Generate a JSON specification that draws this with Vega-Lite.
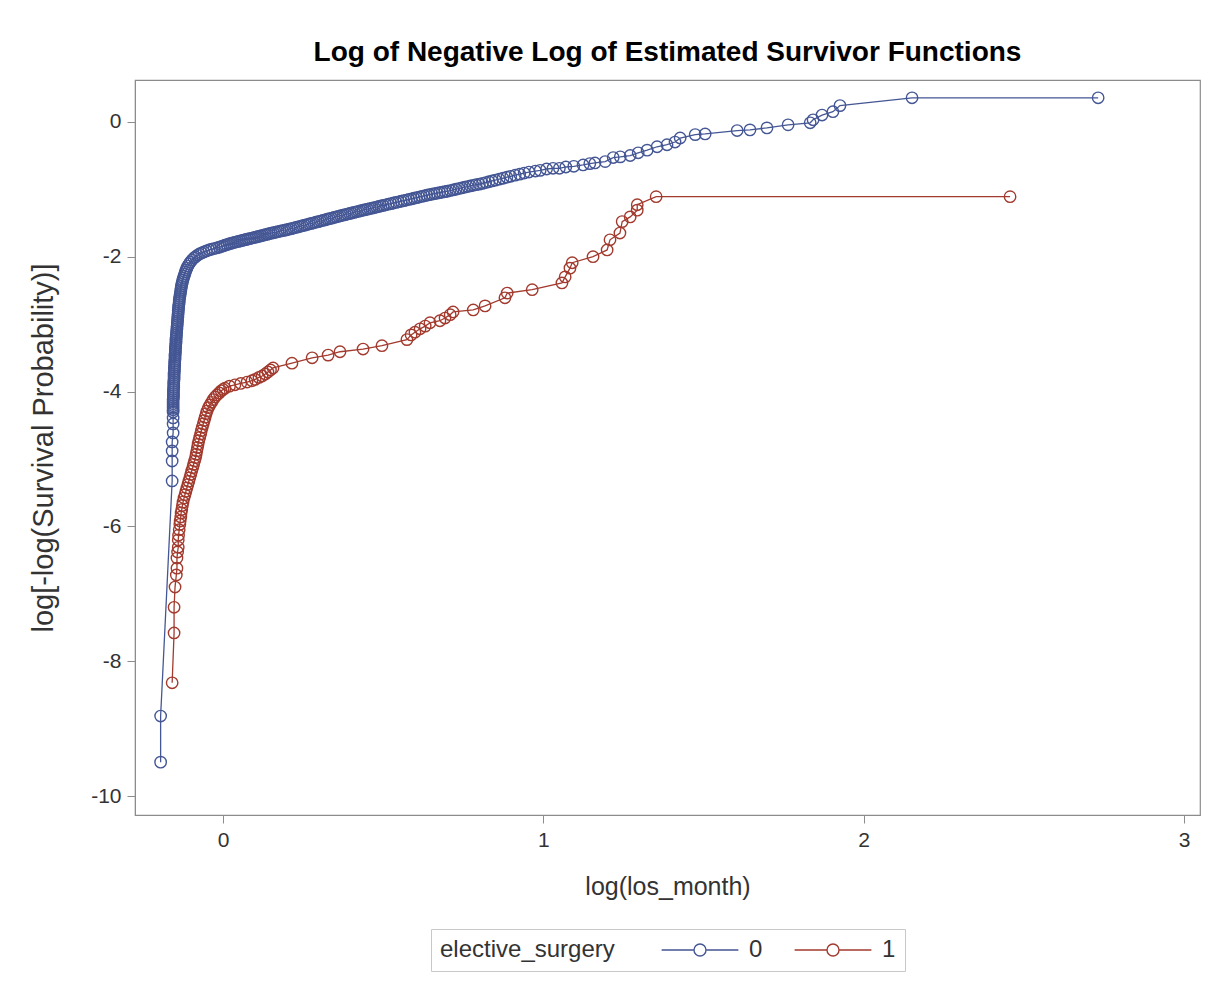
{
  "$schema": "https://vega.github.io/schema/vega-lite/v6.json",
  "autosize": "none",
  "width": 1065,
  "height": 735,
  "padding": {"left": 135, "top": 80, "right": 13, "bottom": 168},
  "background": "white",
  "title": {"text": "Log of Negative Log of Estimated Survivor Functions", "font": "Liberation Sans", "fontSize": 28, "fontWeight": "bold", "color": "#000000", "anchor": "middle", "baseline": "alphabetic", "offset": 18, "dy": 27},
  "config": {
    "view": {"stroke": "#8c8c8c", "strokeWidth": 1.2},
    "axis": {"grid": false, "domainColor": "#8c8c8c", "tickColor": "#8c8c8c", "tickSize": 8, "labelFont": "Liberation Sans", "labelFontSize": 21, "labelColor": "#333333", "titleFont": "Liberation Sans", "titleFontWeight": "normal", "titleColor": "#333333", "labelExpr": "datum.value < 0 ? '-' + abs(datum.value) : '' + datum.value"},
    "legend": {"layout": {"bottom": {"anchor": "middle"}}}
  },
  "data": {"values": [
    {"g":"0","t":-0.195,"s":-9.496},{"g":"0","t":-0.195,"s":-8.813},{"g":"0","t":-0.159,"s":-5.326},{"g":"0","t":-0.159,"s":-5.03},{"g":"0","t":-0.159,"s":-4.881},{"g":"0","t":-0.159,"s":-4.748},{"g":"0","t":-0.156,"s":-4.614},{"g":"0","t":-0.156,"s":-4.481},{"g":"0","t":-0.156,"s":-4.392},{"g":"0","t":-0.156,"s":-4.303},
    {"g":"0","t":-0.156,"s":-4.27},{"g":"0","t":-0.156,"s":-4.24},{"g":"0","t":-0.156,"s":-4.21},{"g":"0","t":-0.156,"s":-4.18},{"g":"0","t":-0.156,"s":-4.15},{"g":"0","t":-0.156,"s":-4.12},{"g":"0","t":-0.155,"s":-4.09},{"g":"0","t":-0.155,"s":-4.06},{"g":"0","t":-0.155,"s":-4.03},{"g":"0","t":-0.155,"s":-4.0},{"g":"0","t":-0.155,"s":-3.97},{"g":"0","t":-0.154,"s":-3.94},{"g":"0","t":-0.154,"s":-3.91},{"g":"0","t":-0.154,"s":-3.88},{"g":"0","t":-0.154,"s":-3.85},{"g":"0","t":-0.153,"s":-3.82},{"g":"0","t":-0.153,"s":-3.79},{"g":"0","t":-0.153,"s":-3.76},{"g":"0","t":-0.153,"s":-3.73},{"g":"0","t":-0.152,"s":-3.7},{"g":"0","t":-0.152,"s":-3.67},{"g":"0","t":-0.152,"s":-3.64},{"g":"0","t":-0.151,"s":-3.61},{"g":"0","t":-0.151,"s":-3.58},{"g":"0","t":-0.151,"s":-3.55},{"g":"0","t":-0.15,"s":-3.52},{"g":"0","t":-0.15,"s":-3.49},{"g":"0","t":-0.15,"s":-3.46},{"g":"0","t":-0.149,"s":-3.43},{"g":"0","t":-0.149,"s":-3.4},{"g":"0","t":-0.149,"s":-3.37},{"g":"0","t":-0.148,"s":-3.34},{"g":"0","t":-0.148,"s":-3.31},{"g":"0","t":-0.147,"s":-3.28},{"g":"0","t":-0.147,"s":-3.25},{"g":"0","t":-0.147,"s":-3.22},{"g":"0","t":-0.146,"s":-3.19},{"g":"0","t":-0.146,"s":-3.16},{"g":"0","t":-0.145,"s":-3.13},{"g":"0","t":-0.145,"s":-3.1},{"g":"0","t":-0.144,"s":-3.07},{"g":"0","t":-0.144,"s":-3.04},{"g":"0","t":-0.143,"s":-3.01},{"g":"0","t":-0.143,"s":-2.98},{"g":"0","t":-0.142,"s":-2.95},{"g":"0","t":-0.142,"s":-2.92},{"g":"0","t":-0.141,"s":-2.89},{"g":"0","t":-0.141,"s":-2.86},{"g":"0","t":-0.14,"s":-2.83},{"g":"0","t":-0.14,"s":-2.8},{"g":"0","t":-0.139,"s":-2.77},{"g":"0","t":-0.139,"s":-2.74},{"g":"0","t":-0.138,"s":-2.71},{"g":"0","t":-0.137,"s":-2.68},{"g":"0","t":-0.137,"s":-2.65},{"g":"0","t":-0.136,"s":-2.62},{"g":"0","t":-0.135,"s":-2.59},{"g":"0","t":-0.134,"s":-2.56},{"g":"0","t":-0.133,"s":-2.53},{"g":"0","t":-0.132,"s":-2.5},{"g":"0","t":-0.131,"s":-2.47},{"g":"0","t":-0.13,"s":-2.44},{"g":"0","t":-0.129,"s":-2.41},{"g":"0","t":-0.127,"s":-2.38},{"g":"0","t":-0.126,"s":-2.35},{"g":"0","t":-0.124,"s":-2.32},{"g":"0","t":-0.122,"s":-2.29},{"g":"0","t":-0.12,"s":-2.26},{"g":"0","t":-0.118,"s":-2.23},{"g":"0","t":-0.116,"s":-2.2},{"g":"0","t":-0.113,"s":-2.17},{"g":"0","t":-0.11,"s":-2.14},{"g":"0","t":-0.106,"s":-2.11},{"g":"0","t":-0.102,"s":-2.08},{"g":"0","t":-0.097,"s":-2.05},{"g":"0","t":-0.091,"s":-2.02},{"g":"0","t":-0.086,"s":-2.0},{"g":"0","t":-0.08,"s":-1.98},{"g":"0","t":-0.074,"s":-1.96},{"g":"0","t":-0.067,"s":-1.945},{"g":"0","t":-0.06,"s":-1.93},{"g":"0","t":-0.052,"s":-1.915},{"g":"0","t":-0.044,"s":-1.9},{"g":"0","t":-0.036,"s":-1.89},{"g":"0","t":-0.028,"s":-1.88},{"g":"0","t":-0.02,"s":-1.87},{"g":"0","t":-0.012,"s":-1.86},{"g":"0","t":-0.006,"s":-1.85},
    {"g":"0","t":0.0,"s":-1.84},{"g":"0","t":0.006,"s":-1.83},{"g":"0","t":0.012,"s":-1.82},{"g":"0","t":0.018,"s":-1.812},{"g":"0","t":0.024,"s":-1.803},{"g":"0","t":0.03,"s":-1.795},{"g":"0","t":0.036,"s":-1.787},{"g":"0","t":0.042,"s":-1.78},{"g":"0","t":0.048,"s":-1.773},{"g":"0","t":0.054,"s":-1.766},{"g":"0","t":0.06,"s":-1.759},{"g":"0","t":0.066,"s":-1.752},{"g":"0","t":0.072,"s":-1.745},{"g":"0","t":0.078,"s":-1.738},{"g":"0","t":0.084,"s":-1.731},{"g":"0","t":0.09,"s":-1.724},{"g":"0","t":0.096,"s":-1.717},{"g":"0","t":0.102,"s":-1.71},{"g":"0","t":0.108,"s":-1.703},{"g":"0","t":0.114,"s":-1.696},{"g":"0","t":0.12,"s":-1.688},{"g":"0","t":0.126,"s":-1.681},{"g":"0","t":0.132,"s":-1.674},{"g":"0","t":0.138,"s":-1.667},{"g":"0","t":0.144,"s":-1.66},{"g":"0","t":0.15,"s":-1.652},{"g":"0","t":0.157,"s":-1.645},{"g":"0","t":0.164,"s":-1.638},{"g":"0","t":0.171,"s":-1.63},{"g":"0","t":0.178,"s":-1.622},{"g":"0","t":0.185,"s":-1.615},{"g":"0","t":0.192,"s":-1.608},{"g":"0","t":0.199,"s":-1.601},{"g":"0","t":0.206,"s":-1.592},{"g":"0","t":0.213,"s":-1.584},{"g":"0","t":0.22,"s":-1.576},{"g":"0","t":0.227,"s":-1.567},{"g":"0","t":0.234,"s":-1.558},{"g":"0","t":0.241,"s":-1.55},{"g":"0","t":0.248,"s":-1.541},{"g":"0","t":0.255,"s":-1.532},{"g":"0","t":0.262,"s":-1.524},{"g":"0","t":0.269,"s":-1.515},{"g":"0","t":0.276,"s":-1.506},{"g":"0","t":0.283,"s":-1.498},{"g":"0","t":0.29,"s":-1.489},{"g":"0","t":0.297,"s":-1.48},{"g":"0","t":0.304,"s":-1.472},{"g":"0","t":0.311,"s":-1.463},{"g":"0","t":0.318,"s":-1.454},{"g":"0","t":0.325,"s":-1.445},{"g":"0","t":0.332,"s":-1.436},{"g":"0","t":0.339,"s":-1.428},{"g":"0","t":0.346,"s":-1.419},{"g":"0","t":0.353,"s":-1.41},{"g":"0","t":0.36,"s":-1.402},{"g":"0","t":0.367,"s":-1.393},{"g":"0","t":0.374,"s":-1.385},{"g":"0","t":0.381,"s":-1.377},{"g":"0","t":0.388,"s":-1.368},{"g":"0","t":0.395,"s":-1.36},{"g":"0","t":0.402,"s":-1.352},{"g":"0","t":0.409,"s":-1.343},{"g":"0","t":0.416,"s":-1.335},{"g":"0","t":0.423,"s":-1.327},{"g":"0","t":0.43,"s":-1.319},{"g":"0","t":0.437,"s":-1.311},{"g":"0","t":0.444,"s":-1.303},{"g":"0","t":0.451,"s":-1.295},{"g":"0","t":0.458,"s":-1.287},{"g":"0","t":0.465,"s":-1.28},{"g":"0","t":0.472,"s":-1.272},{"g":"0","t":0.479,"s":-1.264},{"g":"0","t":0.486,"s":-1.256},{"g":"0","t":0.493,"s":-1.248},{"g":"0","t":0.5,"s":-1.24},{"g":"0","t":0.508,"s":-1.231},{"g":"0","t":0.516,"s":-1.222},{"g":"0","t":0.524,"s":-1.213},{"g":"0","t":0.532,"s":-1.204},{"g":"0","t":0.54,"s":-1.196},{"g":"0","t":0.548,"s":-1.187},{"g":"0","t":0.556,"s":-1.178},{"g":"0","t":0.564,"s":-1.169},{"g":"0","t":0.572,"s":-1.16},{"g":"0","t":0.58,"s":-1.151},{"g":"0","t":0.588,"s":-1.143},{"g":"0","t":0.596,"s":-1.134},{"g":"0","t":0.604,"s":-1.125},{"g":"0","t":0.612,"s":-1.116},{"g":"0","t":0.62,"s":-1.107},{"g":"0","t":0.628,"s":-1.098},{"g":"0","t":0.636,"s":-1.089},{"g":"0","t":0.644,"s":-1.081},{"g":"0","t":0.652,"s":-1.073},{"g":"0","t":0.66,"s":-1.065},{"g":"0","t":0.668,"s":-1.058},{"g":"0","t":0.676,"s":-1.05},{"g":"0","t":0.684,"s":-1.043},{"g":"0","t":0.692,"s":-1.036},{"g":"0","t":0.7,"s":-1.03},{"g":"0","t":0.709,"s":-1.02},{"g":"0","t":0.718,"s":-1.01},{"g":"0","t":0.727,"s":-1.0},{"g":"0","t":0.736,"s":-0.99},{"g":"0","t":0.745,"s":-0.98},{"g":"0","t":0.754,"s":-0.97},{"g":"0","t":0.763,"s":-0.96},{"g":"0","t":0.772,"s":-0.951},{"g":"0","t":0.781,"s":-0.942},{"g":"0","t":0.79,"s":-0.933},{"g":"0","t":0.8,"s":-0.925},{"g":"0","t":0.81,"s":-0.913},{"g":"0","t":0.82,"s":-0.901},{"g":"0","t":0.83,"s":-0.889},{"g":"0","t":0.84,"s":-0.877},{"g":"0","t":0.85,"s":-0.865},{"g":"0","t":0.862,"s":-0.851},{"g":"0","t":0.874,"s":-0.837},{"g":"0","t":0.886,"s":-0.822},{"g":"0","t":0.898,"s":-0.808},{"g":"0","t":0.912,"s":-0.792},{"g":"0","t":0.926,"s":-0.776},{"g":"0","t":0.94,"s":-0.76},{"g":"0","t":0.955,"s":-0.745},
    {"g":"0","t":0.975,"s":-0.73},{"g":"0","t":0.99,"s":-0.72},{"g":"0","t":1.01,"s":-0.7},{"g":"0","t":1.03,"s":-0.69},{"g":"0","t":1.05,"s":-0.69},{"g":"0","t":1.07,"s":-0.67},{"g":"0","t":1.095,"s":-0.66},{"g":"0","t":1.124,"s":-0.64},{"g":"0","t":1.145,"s":-0.62},{"g":"0","t":1.161,"s":-0.61},{"g":"0","t":1.193,"s":-0.59},{"g":"0","t":1.218,"s":-0.53},{"g":"0","t":1.24,"s":-0.52},{"g":"0","t":1.271,"s":-0.5},{"g":"0","t":1.296,"s":-0.46},{"g":"0","t":1.324,"s":-0.42},{"g":"0","t":1.355,"s":-0.37},{"g":"0","t":1.386,"s":-0.34},{"g":"0","t":1.411,"s":-0.3},{"g":"0","t":1.427,"s":-0.24},{"g":"0","t":1.474,"s":-0.19},{"g":"0","t":1.505,"s":-0.18},{"g":"0","t":1.605,"s":-0.13},{"g":"0","t":1.645,"s":-0.12},{"g":"0","t":1.698,"s":-0.09},{"g":"0","t":1.764,"s":-0.045},{"g":"0","t":1.833,"s":-0.015},{"g":"0","t":1.842,"s":0.03},{"g":"0","t":1.87,"s":0.1},{"g":"0","t":1.904,"s":0.15},{"g":"0","t":1.926,"s":0.24},{"g":"0","t":2.151,"s":0.356},{"g":"0","t":2.732,"s":0.356},
    {"g":"1","t":-0.159,"s":-8.32},{"g":"1","t":-0.153,"s":-7.58},{"g":"1","t":-0.153,"s":-7.2},{"g":"1","t":-0.15,"s":-6.9},{"g":"1","t":-0.146,"s":-6.72},{"g":"1","t":-0.144,"s":-6.62},{"g":"1","t":-0.144,"s":-6.47},{"g":"1","t":-0.142,"s":-6.38},{"g":"1","t":-0.14,"s":-6.31},{"g":"1","t":-0.14,"s":-6.2},{"g":"1","t":-0.139,"s":-6.13},{"g":"1","t":-0.137,"s":-6.05},{"g":"1","t":-0.135,"s":-5.97},{"g":"1","t":-0.134,"s":-5.92},{"g":"1","t":-0.132,"s":-5.86},{"g":"1","t":-0.131,"s":-5.8},{"g":"1","t":-0.129,"s":-5.75},{"g":"1","t":-0.127,"s":-5.69},{"g":"1","t":-0.125,"s":-5.64},{"g":"1","t":-0.122,"s":-5.58},{"g":"1","t":-0.119,"s":-5.53},{"g":"1","t":-0.116,"s":-5.48},{"g":"1","t":-0.113,"s":-5.43},{"g":"1","t":-0.11,"s":-5.38},{"g":"1","t":-0.107,"s":-5.33},{"g":"1","t":-0.104,"s":-5.28},{"g":"1","t":-0.101,"s":-5.23},{"g":"1","t":-0.098,"s":-5.18},{"g":"1","t":-0.095,"s":-5.13},{"g":"1","t":-0.092,"s":-5.08},{"g":"1","t":-0.089,"s":-5.03},{"g":"1","t":-0.086,"s":-4.98},{"g":"1","t":-0.084,"s":-4.93},{"g":"1","t":-0.082,"s":-4.88},{"g":"1","t":-0.08,"s":-4.83},{"g":"1","t":-0.078,"s":-4.78},{"g":"1","t":-0.076,"s":-4.73},{"g":"1","t":-0.073,"s":-4.68},{"g":"1","t":-0.07,"s":-4.63},{"g":"1","t":-0.068,"s":-4.58},{"g":"1","t":-0.065,"s":-4.53},{"g":"1","t":-0.062,"s":-4.48},{"g":"1","t":-0.059,"s":-4.43},{"g":"1","t":-0.056,"s":-4.38},{"g":"1","t":-0.053,"s":-4.33},{"g":"1","t":-0.05,"s":-4.29},{"g":"1","t":-0.046,"s":-4.24},{"g":"1","t":-0.041,"s":-4.2},{"g":"1","t":-0.036,"s":-4.16},{"g":"1","t":-0.031,"s":-4.12},{"g":"1","t":-0.025,"s":-4.08},{"g":"1","t":-0.019,"s":-4.05},{"g":"1","t":-0.012,"s":-4.02},{"g":"1","t":-0.006,"s":-3.99},{"g":"1","t":0.0,"s":-3.97},{"g":"1","t":0.006,"s":-3.95},{"g":"1","t":0.02,"s":-3.92},{"g":"1","t":0.037,"s":-3.9},{"g":"1","t":0.055,"s":-3.88},{"g":"1","t":0.075,"s":-3.86},{"g":"1","t":0.09,"s":-3.84},{"g":"1","t":0.1,"s":-3.82},{"g":"1","t":0.112,"s":-3.79},{"g":"1","t":0.122,"s":-3.77},{"g":"1","t":0.132,"s":-3.74},{"g":"1","t":0.14,"s":-3.71},{"g":"1","t":0.148,"s":-3.68},{"g":"1","t":0.156,"s":-3.65},{"g":"1","t":0.215,"s":-3.58},{"g":"1","t":0.278,"s":-3.5},{"g":"1","t":0.328,"s":-3.46},{"g":"1","t":0.365,"s":-3.41},{"g":"1","t":0.437,"s":-3.37},{"g":"1","t":0.496,"s":-3.32},{"g":"1","t":0.574,"s":-3.23},{"g":"1","t":0.587,"s":-3.16},{"g":"1","t":0.599,"s":-3.12},{"g":"1","t":0.615,"s":-3.07},{"g":"1","t":0.631,"s":-3.03},{"g":"1","t":0.646,"s":-2.98},{"g":"1","t":0.677,"s":-2.95},{"g":"1","t":0.693,"s":-2.91},{"g":"1","t":0.709,"s":-2.86},{"g":"1","t":0.718,"s":-2.82},{"g":"1","t":0.781,"s":-2.79},{"g":"1","t":0.818,"s":-2.73},{"g":"1","t":0.88,"s":-2.61},{"g":"1","t":0.887,"s":-2.54},{"g":"1","t":0.965,"s":-2.49},{"g":"1","t":1.058,"s":-2.39},{"g":"1","t":1.068,"s":-2.3},{"g":"1","t":1.083,"s":-2.17},{"g":"1","t":1.09,"s":-2.09},{"g":"1","t":1.155,"s":-2.0},{"g":"1","t":1.199,"s":-1.9},{"g":"1","t":1.208,"s":-1.75},{"g":"1","t":1.239,"s":-1.65},{"g":"1","t":1.246,"s":-1.48},{"g":"1","t":1.271,"s":-1.41},{"g":"1","t":1.293,"s":-1.31},{"g":"1","t":1.293,"s":-1.23},{"g":"1","t":1.352,"s":-1.11},{"g":"1","t":2.457,"s":-1.11}
  ]},
  "encoding": {
    "x": {"field": "t", "type": "quantitative", "title": "log(los_month)", "scale": {"domain": [-0.275, 3.05], "nice": false, "zero": false}, "axis": {"values": [0, 1, 2, 3], "labelPadding": 6, "titleFontSize": 25, "titlePadding": 24}},
    "y": {"field": "s", "type": "quantitative", "title": "log[-log(Survival Probability)]", "scale": {"domain": [-10.28, 0.62], "nice": false, "zero": false}, "axis": {"values": [0, -2, -4, -6, -8, -10], "labelPadding": 6, "titleFontSize": 29, "titlePadding": 32}},
    "color": {"field": "g", "type": "nominal", "title": "elective_surgery", "scale": {"domain": ["0", "1"], "range": ["#445694", "#A23A2E"]},
      "legend": {"orient": "bottom", "direction": "horizontal", "titleOrient": "left", "titleFont": "Liberation Sans", "titleFontSize": 24, "titleFontWeight": "normal", "titleColor": "#333333", "titleBaseline": "middle", "labelFont": "Liberation Sans", "labelFontSize": 24, "labelColor": "#333333", "symbolType": "M-6.4,0H-1M1,0H6.4M1,0A1,1 0 1,1 -1,0A1,1 0 1,1 1,0", "symbolSize": 144, "symbolStrokeWidth": 1.4, "symbolFillColor": "transparent", "strokeColor": "#c8c8c8", "padding": 9, "offset": 30, "columnPadding": 28, "labelOffset": 37, "titlePadding": 73}}
  },
  "layer": [
    {"mark": {"type": "line", "strokeWidth": 1.3}},
    {"mark": {"type": "point", "shape": "circle", "filled": false, "size": 130, "strokeWidth": 1.4, "opacity": 1}}
  ]
}
